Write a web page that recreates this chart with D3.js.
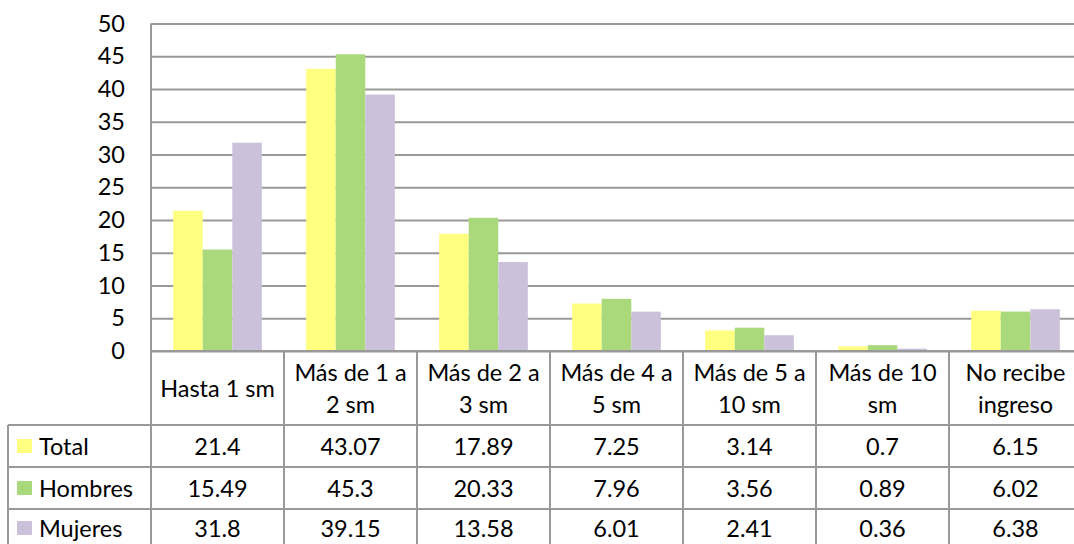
<!DOCTYPE html>
<html><head><meta charset="utf-8">
<script src="https://cdn.jsdelivr.net/npm/d3@7"></script>
<style>
html,body{margin:0;padding:0;background:#fff;overflow:hidden}
svg{display:block}
text{font-family:Lato, "Open Sans", sans-serif;fill:#000}
</style></head><body>
<svg id="c" width="1074" height="544"></svg>
<script>
const categories = [["Hasta 1 sm"],["Más de 1 a","2 sm"],["Más de 2 a","3 sm"],["Más de 4 a","5 sm"],["Más de 5 a","10 sm"],["Más de 10","sm"],["No recibe","ingreso"]];
const seriesNames = ["Total","Hombres","Mujeres"];
const total   = [21.4, 43.07, 17.89, 7.25, 3.14, 0.7, 6.15];
const hombres = [15.49, 45.3, 20.33, 7.96, 3.56, 0.89, 6.02];
const mujeres = [31.8, 39.15, 13.58, 6.01, 2.41, 0.36, 6.38];
const valueLabels = [["21.4","43.07","17.89","7.25","3.14","0.7","6.15"],["15.49","45.3","20.33","7.96","3.56","0.89","6.02"],["31.8","39.15","13.58","6.01","2.41","0.36","6.38"]];
const yTicks = [0,5,10,15,20,25,30,35,40,45,50];
const colors = ["#FFFF80","#A9D97B","#CCC1DB"];

const series = [total, hombres, mujeres];
const svg = d3.select("#c");
const x0 = 151, x1 = 151 + 7*133, yTop = 23.5, yBot = 351;
const FS = 23.5;
const gridC = "#999";

const x = d3.scaleBand().domain(d3.range(categories.length)).range([x0, x1]).paddingInner(0).paddingOuter(0);
const xs = d3.scaleBand().domain(d3.range(3)).range([0, x.bandwidth()]).paddingInner(0).paddingOuter(0.75);
const y = d3.scaleLinear().domain([0,50]).range([yBot, yTop]);

// gridlines + y tick labels
const yAxis = d3.axisLeft(y).tickValues(yTicks).tickSize(-(x1-x0)).tickPadding(26).tickFormat(d3.format("d"));
const ga = svg.append("g").attr("transform",`translate(${x0},0)`).call(yAxis);
ga.select(".domain").remove();
ga.selectAll(".tick line").attr("stroke",gridC).attr("stroke-width",2);
ga.selectAll(".tick text").style("font-size",FS+"px").style("font-family","Lato, sans-serif").attr("fill","#000");

// bars
series.forEach((s,si)=>{
  svg.append("g").selectAll("rect").data(s).join("rect")
    .attr("x",(d,i)=>x(i)+xs(si))
    .attr("width",xs.bandwidth())
    .attr("y",d=>y(d))
    .attr("height",d=>yBot-y(d))
    .attr("fill",colors[si]);
});

// table
const rowY = [yBot, 425, 467, 509, 547];
const g = svg.append("g").attr("stroke",gridC).attr("stroke-width",2);
g.append("line").attr("x1",x0).attr("x2",x0).attr("y1",yTop).attr("y2",544);
g.append("line").attr("x1",x0).attr("x2",x1).attr("y1",yBot).attr("y2",yBot);
[425,467,509].forEach(yy=>g.append("line").attr("x1",8).attr("x2",x1).attr("y1",yy).attr("y2",yy));
d3.range(1,categories.length+1).forEach(i=>{
  const xx = x0 + i*x.bandwidth();
  g.append("line").attr("x1",xx).attr("x2",xx).attr("y1",yBot).attr("y2",544);
});
g.append("line").attr("x1",8).attr("x2",8).attr("y1",425).attr("y2",544);

// header labels
categories.forEach((lines,i)=>{
  const cx = x(i)+x.bandwidth()/2;
  const cy = (rowY[0]+rowY[1])/2;
  const lh = 32;
  lines.forEach((t,li)=>{
    svg.append("text").attr("x",cx).attr("y",cy + (li-(lines.length-1)/2)*lh)
      .attr("text-anchor","middle").attr("dominant-baseline","central")
      .style("font-size",FS+"px").text(t);
  });
});

// rows
seriesNames.forEach((name,si)=>{
  const cy = (rowY[si+1]+rowY[si+2])/2;
  svg.append("rect").attr("x",17).attr("y",cy-7).attr("width",15).attr("height",14).attr("fill",colors[si]);
  svg.append("text").attr("x",39).attr("y",cy).attr("dominant-baseline","central").style("font-size",FS+"px").text(name);
  valueLabels[si].forEach((v,i)=>{
    svg.append("text").attr("x",x(i)+x.bandwidth()/2).attr("y",cy).attr("text-anchor","middle")
      .attr("dominant-baseline","central").style("font-size",FS+"px").text(v);
  });
});
</script>
</body></html>
